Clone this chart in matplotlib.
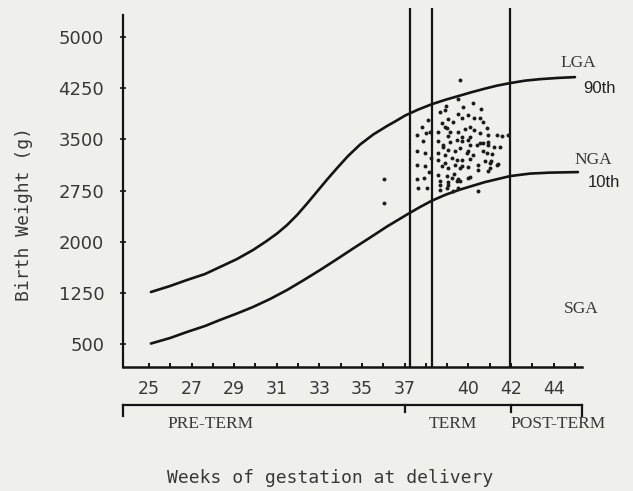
import matplotlib
matplotlib.use("Agg")
import matplotlib.pyplot as plt

# ---------------- data ----------------
x_tick_weeks = [25, 27, 29, 31, 33, 35, 37, 40, 42, 44]
x_minor_weeks = list(range(25, 46))
y_tick_weights = [500, 1250, 2000, 2750, 3500, 4250, 5000]

# 90th percentile curve (LGA boundary)
p90_weeks = [25.09, 25.99, 26.78, 27.63, 28.33, 29.13, 29.88, 30.49, 31.01, 31.48, 31.95,
             32.42, 32.89, 33.36, 33.83, 34.34, 34.91, 35.52, 36.17, 36.60, 37.02, 37.63,
             38.29, 38.94, 39.60, 40.16, 40.77, 41.34, 41.95, 42.65, 43.36, 44.20, 45.00]
p90_weights = [1262, 1350, 1438, 1526, 1628, 1745, 1877, 2002, 2119, 2243, 2390,
               2558, 2734, 2910, 3078, 3254, 3423, 3569, 3694, 3770, 3848, 3935,
               4016, 4082, 4141, 4192, 4243, 4287, 4324, 4360, 4382, 4400, 4412]

# 10th percentile curve (SGA boundary)
p10_weeks = [25.09, 25.99, 26.78, 27.63, 28.33, 29.13, 29.88, 30.68, 31.48, 32.23, 33.03,
             33.83, 34.58, 35.38, 36.17, 36.64, 37.11, 37.72, 38.29, 38.94, 39.60, 40.77,
             41.95, 42.89, 43.83, 45.14]
p10_weights = [507, 588, 676, 764, 852, 947, 1042, 1159, 1291, 1430, 1584,
               1745, 1899, 2060, 2221, 2309, 2397, 2507, 2602, 2690, 2763, 2873,
               2961, 2998, 3012, 3020]

# vertical reference lines (weeks)
ref_lines = [37.25, 38.3, 41.95]

# individual births
births_weeks = [
    36.03, 36.03, 39.60, 40.45,
    37.58, 37.82, 38.00, 38.10, 38.19, 37.86, 37.58, 37.96, 38.24, 37.58, 37.96, 38.15, 37.58, 37.91, 38.05, 37.63,
    39.51, 38.94, 38.90, 38.66, 39.04, 38.76, 39.27, 38.99, 38.57, 39.04,
    40.21, 39.74, 40.59, 39.98, 39.51, 39.69, 40.26, 40.54, 40.68, 40.07, 39.84, 39.51, 40.26, 40.87, 40.54, 40.92,
    40.07, 39.69, 41.57, 41.85,
    38.57, 38.80, 39.04, 38.57, 38.90, 39.37, 39.23, 38.57, 38.76, 39.04, 39.37, 38.57, 38.99, 39.32, 38.66, 39.04,
    39.46, 38.66, 38.99, 39.27,
    39.69, 39.98, 40.40, 40.68, 40.92, 41.20, 39.98, 40.21, 40.68, 40.87, 41.10, 39.69, 40.07, 40.45, 40.77, 41.06,
    41.38, 39.60, 39.98, 40.92, 39.51, 39.98, 39.60,
    38.90, 39.13, 39.46, 39.13, 38.80, 39.60, 40.07, 40.54, 39.93, 39.46, 38.90, 39.69, 40.92, 41.34, 41.48, 41.01,
    41.34, 40.45, 39.23, 40.07, 39.04, 39.51, 38.66, 41.01,
]
births_weights = [
    2920, 2570, 4370, 2740,
    3560, 3680, 3590, 3780, 3610, 3470, 3330, 3300, 3230, 3120, 3110, 3020, 2920, 2930, 2790, 2790,
    4090, 3990, 3930, 3900, 3800, 3740, 3750, 3660, 3610, 3550,
    4030, 3970, 3940, 3860, 3870, 3810, 3810, 3810, 3750, 3680, 3650, 3610, 3640, 3660, 3590, 3560,
    3530, 3530, 3550, 3560,
    3470, 3420, 3340, 3300, 3270, 3330, 3230, 3200, 3110, 3080, 3120, 2980, 2960, 2990, 2890, 2870,
    2890, 2760, 2790, 2740,
    3470, 3490, 3420, 3450, 3420, 3390, 3330, 3270, 3330, 3300, 3280, 3200, 3210, 3120, 3180, 3180,
    3140, 3080, 3090, 3030, 2920, 2930, 2890,
    3680, 3610, 3490, 3460, 3390, 3370, 3420, 3450, 3300, 3200, 3150, 3110, 3460, 3560, 3390, 3150,
    3120, 3050, 2930, 2950, 2830, 2790, 2830, 3080,
]

period_bounds = [37, 42]
period_names = ["PRE-TERM", "TERM", "POST-TERM"]
period_label_weeks = [27.9, 39.25, 44.2]

# ---------------- figure ----------------
W, H = 633, 491
bg = "#efefec"
ink = "#141414"
txt = "#383838"

fig = plt.figure(figsize=(W / 100, H / 100), dpi=100, facecolor=bg)
ax = fig.add_axes([123 / W, 1 - 367 / H, (582 - 123) / W, (367 - 8) / H])
ax.set_facecolor(bg)
xmin, xmax = 23.78, 45.33
ymin, ymax = 163, 5425
ax.set_xlim(xmin, xmax)
ax.set_ylim(ymin, ymax)

for s in ["top", "right"]:
    ax.spines[s].set_visible(False)
ax.spines["left"].set_bounds(ymin, 5322)
ax.spines["left"].set_linewidth(1.6)
ax.spines["bottom"].set_linewidth(1.8)
ax.spines["left"].set_color(ink)
ax.spines["bottom"].set_color(ink)

# ticks
ax.set_yticks(y_tick_weights)
ax.set_yticklabels([str(v) for v in y_tick_weights])
ax.tick_params(axis="y", direction="inout", length=5, width=1.2, pad=11,
               labelsize=13, labelcolor=txt, color=ink)
ax.set_xticks(x_tick_weeks)
ax.set_xticklabels([str(v) for v in x_tick_weeks])
ax.set_xticks(x_minor_weeks, minor=True)
ax.tick_params(axis="x", which="both", direction="in", length=3, width=1.4,
               pad=9, labelsize=12.5, labelcolor=txt, color=ink)
for lab in ax.get_xticklabels() + ax.get_yticklabels():
    lab.set_family("DejaVu Sans")

# curves
ax.plot(p90_weeks, p90_weights, color=ink, lw=1.9, solid_capstyle="round",
        solid_joinstyle="round")
ax.plot(p10_weeks, p10_weights, color=ink, lw=1.9, solid_capstyle="round",
        solid_joinstyle="round")

# reference lines
ax.vlines(ref_lines, ymin, ymax, color=ink, lw=1.6)

# births
ax.scatter(births_weeks, births_weights, s=8, color="#1c1c1c", linewidths=0, zorder=3)

# curve labels
ax.text(45.14, 4620, "LGA", ha="center", va="center", fontsize=12.5,
        family="Liberation Serif", color=txt, clip_on=False)
ax.text(46.17, 4250, "90th", ha="center", va="center", fontsize=12,
        family="Liberation Sans", color="#222222", clip_on=False)
ax.text(45.85, 3200, "NGA", ha="center", va="center", fontsize=12.5,
        family="Liberation Serif", color=txt, clip_on=False)
ax.text(46.36, 2870, "10th", ha="center", va="center", fontsize=12,
        family="Liberation Sans", color="#222222", clip_on=False)
ax.text(45.28, 1010, "SGA", ha="center", va="center", fontsize=12.5,
        family="Liberation Serif", color=txt, clip_on=False)

# period bracket
tr = ax.get_xaxis_transform()
yb = -0.106
ax.plot([xmin, xmax], [yb, yb], transform=tr, color=ink, lw=1.6, clip_on=False)
ax.plot([xmin, xmin], [yb, yb - 0.03], transform=tr, color=ink, lw=1.6, clip_on=False)
ax.plot([xmax, xmax], [yb, yb - 0.03], transform=tr, color=ink, lw=1.6, clip_on=False)
for b in period_bounds:
    ax.plot([b, b], [yb, yb - 0.02], transform=tr, color=ink, lw=1.6, clip_on=False)
for name, xw in zip(period_names, period_label_weeks):
    ax.text(xw, -0.158, name, transform=tr, ha="center", va="center",
            fontsize=12.5, family="Liberation Serif", color=txt, clip_on=False)

# axis titles
fig.text(24 / W, 1 - 214 / H, "Birth Weight (g)", rotation=90, ha="center", va="center",
         fontsize=13, family="DejaVu Sans Mono", color=txt)
fig.text(330 / W, 1 - 478 / H, "Weeks of gestation at delivery", ha="center", va="center",
         fontsize=13, family="DejaVu Sans Mono", color=txt)

fig.savefig("out.png", dpi=100, facecolor=bg)
